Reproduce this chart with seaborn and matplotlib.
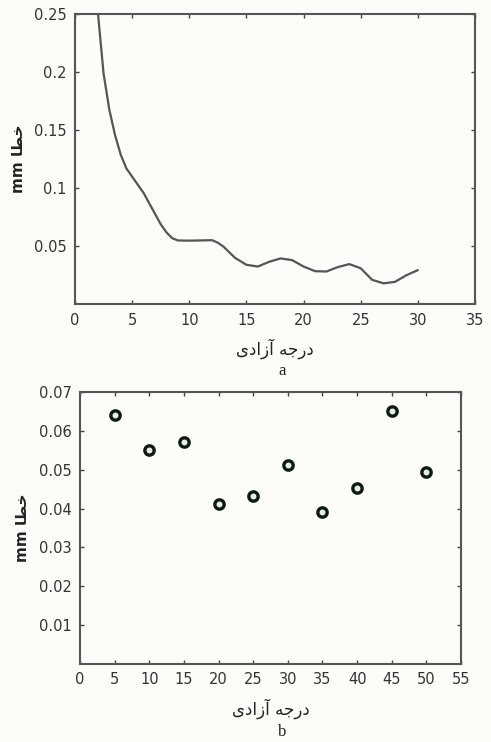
import matplotlib
matplotlib.use("Agg")
import matplotlib.pyplot as plt
import seaborn as sns
import pandas as pd

# ---- data ----
dof_a = [2, 2.5, 3, 3.5, 4, 4.5, 5, 5.5, 6, 6.5, 7, 7.5, 8, 8.5, 9, 10, 11, 12, 12.5, 13, 14,
         15, 16, 17, 18, 19, 20, 21, 22, 23, 24, 25, 26, 27, 28, 29, 30]
err_a = [0.252, 0.199, 0.168, 0.146, 0.129, 0.117, 0.110, 0.103, 0.096, 0.087, 0.078, 0.069,
         0.062, 0.057, 0.055, 0.0548, 0.055, 0.0552, 0.053, 0.0496, 0.0400,
         0.0340, 0.0325, 0.0366, 0.0395, 0.0380, 0.0325, 0.0285, 0.0282, 0.0320, 0.0346,
         0.0310, 0.0210, 0.0180, 0.0193, 0.0250, 0.0294]

dof_b = [5, 10, 15, 20, 25, 30, 35, 40, 45, 50]
err_b = [0.0642, 0.0552, 0.0572, 0.0411, 0.0432, 0.0512, 0.0392, 0.0453, 0.0652, 0.0493]

xticks_a = [0, 5, 10, 15, 20, 25, 30, 35]
yticks_a = [0.05, 0.1, 0.15, 0.2, 0.25]
ytick_labels_a = ["0.05", "0.1", "0.15", "0.2", "0.25"]
xticks_b = [0, 5, 10, 15, 20, 25, 30, 35, 40, 45, 50, 55]
yticks_b = [0.01, 0.02, 0.03, 0.04, 0.05, 0.06, 0.07]

# Persian labels (logical text: "درجه آزادی", "خطا mm"), written in shaped
# visual order because matplotlib has no bidi/shaping support.
xlabel_text = "\uFEEF\uFEA9\uFE8D\uFEAF\uFE81 \uFEEA\uFE9F\uFEAD\uFEA9"
ylabel_text = "mm \uFE8E\uFEC4\uFEA7"
panel_a = "a"
panel_b = "b"

df_a = pd.DataFrame({"dof": dof_a, "err": err_a})
df_b = pd.DataFrame({"dof": dof_b, "err": err_b})

sns.set_theme(style="ticks")
plt.rcParams["font.family"] = ["DejaVu Sans"]

bg = "#fcfcf8"
fig = plt.figure(figsize=(4.91, 7.42), dpi=100, facecolor=bg)
ax1 = fig.add_axes([0.1527, 0.590, 0.8147, 0.3908])
ax2 = fig.add_axes([0.163, 0.1051, 0.776, 0.3666])

frame_col = "#555555"
tick_col = "#444444"

sns.lineplot(data=df_a, x="dof", y="err", ax=ax1, color="#555555", linewidth=1.6)
sns.scatterplot(data=df_b, x="dof", y="err", ax=ax2, s=45, facecolor="#e8efe8",
                edgecolor="#0d1a10", linewidth=2.4, zorder=3)

ax1.set_xlim(0, 35)
ax1.set_ylim(0, 0.25)
ax1.set_xticks(xticks_a)
ax1.set_yticks(yticks_a)
ax1.set_yticklabels(ytick_labels_a)

ax2.set_xlim(0, 55)
ax2.set_ylim(0, 0.07)
ax2.set_xticks(xticks_b)
ax2.set_yticks(yticks_b)

for ax in (ax1, ax2):
    ax.set_facecolor(bg)
    for sp in ax.spines.values():
        sp.set_visible(True)
        sp.set_color(frame_col)
        sp.set_linewidth(1.5)
    ax.tick_params(direction="in", length=3, width=1, colors=tick_col,
                   top=True, right=True, labelsize=10.5, pad=6)
    ax.tick_params(axis="x", labelcolor="#333333")
    ax.tick_params(axis="y", labelcolor="#333333")
    ax.set_xlabel(xlabel_text, fontsize=12, color="#222222", labelpad=8)
    ax.set_ylabel(ylabel_text, fontsize=11, color="#222222", labelpad=6,
                  fontweight="bold")
    ax.grid(False)

fig.text(0.574, 0.500, panel_a, fontsize=12, ha="center", va="center",
         family="Liberation Serif", color="#222222")
fig.text(0.574, 0.014, panel_b, fontsize=12, ha="center", va="center",
         family="Liberation Serif", color="#222222")

fig.savefig("out.png", dpi=100, facecolor=bg)
